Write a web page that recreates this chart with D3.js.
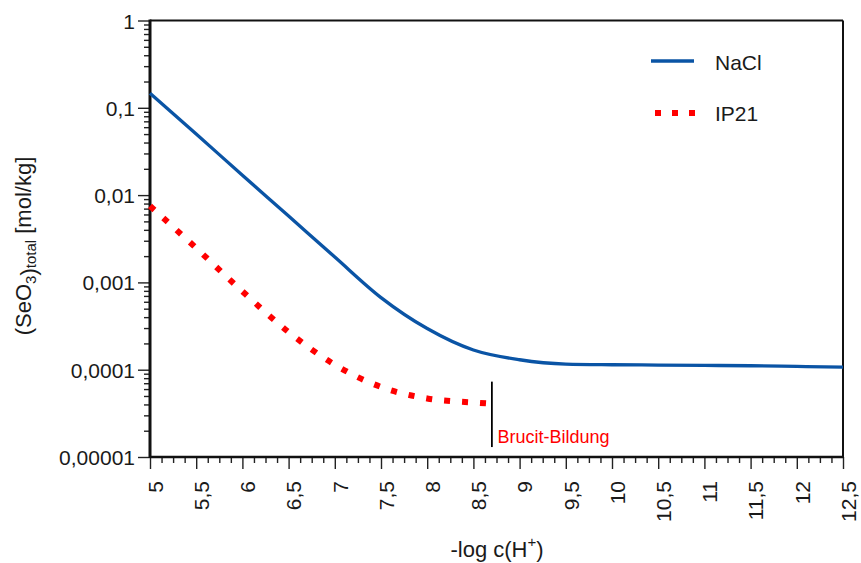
<!DOCTYPE html>
<html>
<head>
<meta charset="utf-8">
<script src="https://cdn.jsdelivr.net/npm/d3@7"></script>
<style>
  body { margin: 0; background: #fff; }
  svg { font-family: "Liberation Sans", Arial, sans-serif; }
</style>
</head>
<body>
<svg id="chart" width="861" height="563"></svg>
<script>
// -log c(H+) values and total selenite concentration [mol/kg]
var phNaCl = [5, 5.5, 6, 6.5, 7, 7.5, 8, 8.5, 9, 9.5, 10, 10.5, 11, 11.5, 12, 12.5];
var seNaCl = [0.147, 0.05, 0.0169, 0.00575, 0.00195, 0.00067, 0.000296, 0.000168, 0.00013, 0.000116, 0.000114, 0.000113, 0.000112, 0.000111, 0.000109, 0.000107];

var phIP21 = [5, 5.5, 6, 6.5, 7, 7.5, 8, 8.5, 8.66];
var seIP21 = [0.0075, 0.00247, 0.00079, 0.00027, 0.000114, 0.0000634, 0.0000468, 0.0000421, 0.000041];

// Brucit-Bildung marker
var brucitPH = 8.7;
var brucitRange = [0.000073, 0.000013];

var xTickValues = [5, 5.5, 6, 6.5, 7, 7.5, 8, 8.5, 9, 9.5, 10, 10.5, 11, 11.5, 12, 12.5];
var xTickLabels = ["5", "5,5", "6", "6,5", "7", "7,5", "8", "8,5", "9", "9,5", "10", "10,5", "11", "11,5", "12", "12,5"];
var yTickValues = [1, 0.1, 0.01, 0.001, 0.0001, 0.00001];
var yTickLabels = ["1", "0,1", "0,01", "0,001", "0,0001", "0,00001"];

var blue = "#0a54a5",
	red = "#ff0000";

var pLeft = 150, pRight = 843, pTop = 20.5, pBottom = 457;

var svg = d3.select("#chart");

var x = d3.scaleLinear().domain([5, 12.5]).range([pLeft, pRight]);
var y = d3.scaleLog().domain([0.00001, 1]).range([pBottom, pTop]);

// minor ticks
var xMinor = d3.range(5, 12.5001, 0.125).filter(function(d){ return Math.abs(d * 2 - Math.round(d * 2)) > 0.01; });
var yMinor = [];
[-5, -4, -3, -2, -1].forEach(function(e){
	for (var k = 2; k <= 9; k++) yMinor.push(k * Math.pow(10, e));
});

var axisStyle = function(g){
	g.select(".domain").remove();
	g.selectAll(".tick line").attr("stroke", "#222").attr("stroke-width", 1.4);
	g.selectAll("text").style("font-size", "21px").attr("fill", "#1a1a1a");
};

svg.append("g")
	.attr("transform", "translate(" + pLeft + ",0)")
	.call(d3.axisLeft(y).tickValues(yMinor).tickFormat("").tickSize(6))
	.call(axisStyle);

svg.append("g")
	.attr("transform", "translate(" + pLeft + ",0)")
	.call(d3.axisLeft(y).tickValues(yTickValues).tickSize(12).tickPadding(3)
		.tickFormat(function(d, i){ return yTickLabels[i]; }))
	.call(axisStyle)
	.selectAll("text").attr("dy", "0.36em");

svg.append("g")
	.attr("transform", "translate(0," + pBottom + ")")
	.call(d3.axisBottom(x).tickValues(xMinor).tickFormat("").tickSize(6))
	.call(axisStyle);

svg.append("g")
	.attr("transform", "translate(0," + pBottom + ")")
	.call(d3.axisBottom(x).tickValues(xTickValues).tickSize(12)
		.tickFormat(function(d, i){ return xTickLabels[i]; }))
	.call(axisStyle)
	.selectAll("text")
		.attr("x", 0)
		.attr("y", 0)
		.attr("dy", "0.35em")
		.attr("transform", "translate(5,24) rotate(-90)")
		.style("text-anchor", "end");

// frame
var frame = svg.append("g").attr("stroke", "#111").attr("fill", "none");
frame.append("line").attr("x1", pLeft).attr("x2", pRight).attr("y1", pTop).attr("y2", pTop).attr("stroke-width", 2);
frame.append("line").attr("x1", pRight).attr("x2", pRight).attr("y1", pTop).attr("y2", pBottom).attr("stroke-width", 2);
frame.append("line").attr("x1", pLeft).attr("x2", pLeft).attr("y1", pTop - 1).attr("y2", pBottom + 1).attr("stroke-width", 3);
frame.append("line").attr("x1", pLeft).attr("x2", pRight + 1).attr("y1", pBottom).attr("y2", pBottom).attr("stroke-width", 2.5);

// curves
var line = d3.line()
	.x(function(d){ return x(d[0]); })
	.y(function(d){ return y(d[1]); })
	.curve(d3.curveMonotoneX);

svg.append("path")
	.datum(d3.zip(phIP21, seIP21))
	.attr("d", line)
	.attr("fill", "none")
	.attr("stroke", red)
	.attr("stroke-width", 6)
	.attr("stroke-dasharray", "6,12");

svg.append("path")
	.datum(d3.zip(phNaCl, seNaCl))
	.attr("d", line)
	.attr("fill", "none")
	.attr("stroke", blue)
	.attr("stroke-width", 3.3);

// Brucit-Bildung
svg.append("line")
	.attr("x1", x(brucitPH)).attr("x2", x(brucitPH))
	.attr("y1", y(brucitRange[0])).attr("y2", y(brucitRange[1]))
	.attr("stroke", "#000")
	.attr("stroke-width", 1.8);

svg.append("text")
	.attr("x", x(brucitPH) + 5.5)
	.attr("y", 443)
	.attr("fill", red)
	.style("font-size", "18px")
	.text("Brucit-Bildung");

// legend
svg.append("line")
	.attr("x1", 651).attr("x2", 694).attr("y1", 61).attr("y2", 61)
	.attr("stroke", blue).attr("stroke-width", 3.3);
svg.append("text").attr("x", 715).attr("y", 69.5).style("font-size", "21px").attr("fill", "#1a1a1a").text("NaCl");

svg.append("line")
	.attr("x1", 655).attr("x2", 697).attr("y1", 113).attr("y2", 113)
	.attr("stroke", red).attr("stroke-width", 6).attr("stroke-dasharray", "6,11");
svg.append("text").attr("x", 715).attr("y", 120.5).style("font-size", "21px").attr("fill", "#1a1a1a").text("IP21");

// axis titles
var xt = svg.append("text")
	.attr("x", 497)
	.attr("y", 557)
	.attr("text-anchor", "middle")
	.attr("fill", "#1a1a1a")
	.style("font-size", "22px");
xt.append("tspan").text("-log c(H");
xt.append("tspan").attr("dy", -10).style("font-size", "15px").text("+");
xt.append("tspan").attr("dy", 10).text(")");

var yt = svg.append("text")
	.attr("transform", "translate(31,246) rotate(-90)")
	.attr("text-anchor", "middle")
	.attr("fill", "#1a1a1a")
	.style("font-size", "22px");
yt.append("tspan").text("(SeO");
yt.append("tspan").attr("dy", 5).style("font-size", "15px").text("3");
yt.append("tspan").text(")");
yt.append("tspan").attr("dy", 0).style("font-size", "15px").text("total");
yt.append("tspan").attr("dy", -5).text(" [mol/kg]");
</script>
</body>
</html>
